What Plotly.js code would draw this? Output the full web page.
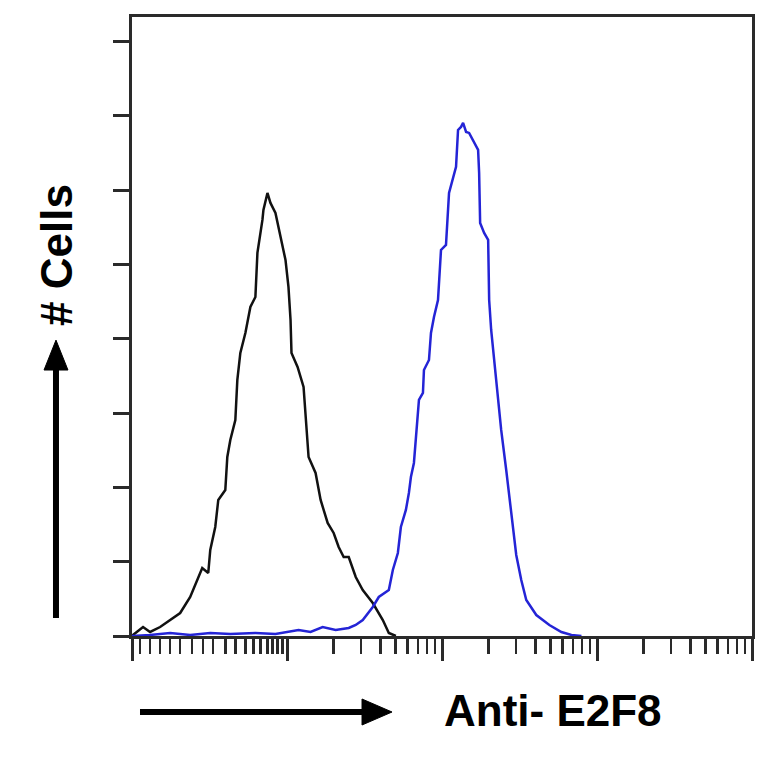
<!DOCTYPE html>
<html>
<head>
<meta charset="utf-8">
<script src="https://cdn.plot.ly/plotly-3.0.1.min.js"></script>
<style>
html,body{margin:0;padding:0;background:#fff;}
#chart{width:764px;height:764px;}
</style>
</head>
<body>
<div id="chart"></div>
<script>
// Control (isotype) histogram - fluorescence intensity (log) and cell counts
var controlIntensity = [1.0, 1.015, 1.178, 1.308, 1.518, 1.762, 2.045, 2.374, 2.634, 2.839, 3.104, 3.198, 3.445, 3.603, 3.999, 4.120, 4.308, 4.642, 4.782, 5.000, 5.388, 5.804, 6.254, 6.444, 6.942, 7.047, 7.478, 7.820, 8.423, 9.077, 9.779, 10.22, 10.54, 10.69, 11.70, 12.79, 13.18, 13.78, 15.29, 16.48, 18.29, 20.00, 21.54, 23.21, 25.01, 27.76, 30.81, 35.76, 41.51, 45.39, 50.39];
var controlCells     = [0, 0.27, 2.42, 1.08, 2.42, 4.31, 6.19, 10.50, 15.07, 18.30, 16.96, 23.15, 29.34, 36.61, 39.30, 48.18, 52.76, 58.14, 68.91, 76.18, 81.56, 88.56, 91.25, 103.10, 111.98, 114.67, 119.25, 116.56, 113.86, 107.40, 101.21, 93.94, 85.06, 76.18, 72.41, 67.03, 58.14, 48.18, 43.88, 36.61, 30.42, 27.73, 23.96, 21.27, 21.27, 15.88, 12.38, 8.88, 4.31, 0.81, 0];

// Anti-E2F8 stained histogram
var e2f8Intensity = [1.0, 1.308, 1.762, 2.374, 3.198, 4.308, 6.254, 8.423, 11.87, 14.19, 16.98, 20.60, 25.01, 27.76, 30.81, 35.76, 39.11, 45.39, 48.18, 51.91, 54.28, 58.48, 61.15, 63.01, 65.89, 69.93, 71.00, 75.34, 76.48, 82.40, 84.89, 88.77, 94.22, 98.52, 106.1, 111.0, 117.8, 123.2, 126.9, 132.7, 136.8, 143.0, 149.6, 158.7, 171.0, 173.6, 176.2, 187.0, 198.5, 201.5, 207.6, 223.6, 240.9, 259.6, 279.6, 301.3, 324.6, 349.7, 405.9, 492.7, 589.2, 683.9, 793.6];
var e2f8Cells     = [0, 0.27, 0.81, 0.27, 0.81, 0.54, 0.81, 0.54, 1.62, 1.08, 2.42, 1.62, 2.15, 2.96, 4.31, 7.81, 10.50, 12.38, 17.77, 22.34, 29.34, 33.92, 38.49, 42.80, 46.57, 58.95, 63.53, 65.41, 71.60, 74.29, 81.56, 85.87, 90.44, 103.90, 105.25, 119.25, 123.55, 126.25, 136.20, 137.01, 138.09, 135.67, 135.40, 133.51, 130.82, 124.63, 111.17, 108.48, 106.60, 90.44, 82.37, 68.91, 55.45, 44.68, 33.92, 21.80, 15.07, 9.69, 5.65, 2.96, 1.08, 0.27, 0];

// Axis ticks
var xMajorTicks = [1, 10, 100, 1000, 10000];
var xMinorTicks = [1.13, 1.31, 1.52, 1.76, 2.04, 2.44, 2.88, 3.34, 4, 4.64, 5.39, 6.07, 6.74, 7.48, 8.06, 8.68, 9.35,
                   20, 30, 40, 50, 60, 70, 80, 90,
                   200, 300, 400, 500, 600, 700, 800, 900,
                   2000, 3000, 4000, 5000, 6000, 7000, 8000, 9000];
var yTicks = [0, 20, 40, 60, 80, 100, 120, 140, 160];

var xLabel = "Anti- E2F8";
var yLabel = "# Cells";

var traces = [
  {x: controlIntensity, y: controlCells, type: 'scatter', mode: 'lines',
   line: {color: '#111111', width: 2.5}, name: 'Control', hoverinfo: 'skip'},
  {x: e2f8Intensity, y: e2f8Cells, type: 'scatter', mode: 'lines',
   line: {color: '#2424d6', width: 2.5}, name: 'Anti-E2F8', hoverinfo: 'skip'}
];

var axisColor = '#2a2a2a';
var layout = {
  width: 764, height: 764,
  margin: {l: 132, r: 12, t: 17, b: 128},
  paper_bgcolor: '#ffffff', plot_bgcolor: '#ffffff',
  showlegend: false,
  font: {family: 'Liberation Sans, Arial, sans-serif', color: '#000'},
  xaxis: {
    type: 'log', range: [0, 4], showgrid: false, zeroline: false,
    showline: true, linecolor: axisColor, linewidth: 3, mirror: true,
    tickmode: 'array', tickvals: xMajorTicks, showticklabels: false,
    ticks: 'outside', ticklen: 22, tickwidth: 3, tickcolor: axisColor,
    minor: {tickmode: 'array', tickvals: xMinorTicks, ticks: 'outside', ticklen: 15, tickwidth: 2.5, tickcolor: axisColor, showgrid: false}
  },
  yaxis: {
    range: [0, 166.6], showgrid: false, zeroline: false,
    showline: true, linecolor: axisColor, linewidth: 3, mirror: true,
    tickmode: 'array', tickvals: yTicks, showticklabels: false,
    ticks: 'outside', ticklen: 16, tickwidth: 3, tickcolor: axisColor
  },
  shapes: [
    // vertical arrow (# Cells)
    {type: 'line', xref: 'paper', yref: 'paper', x0: -0.1226, x1: -0.1226, y0: 0.029, y1: 0.44,
     line: {color: '#000', width: 6}},
    {type: 'path', xref: 'paper', yref: 'paper',
     path: 'M -0.1226,0.478 L -0.1419,0.4297 L -0.1033,0.4297 Z',
     fillcolor: '#000', line: {color: '#000', width: 1}},
    // horizontal arrow (Anti- E2F8)
    {type: 'line', xref: 'paper', yref: 'paper', x0: 0.0129, x1: 0.38, y0: -0.1228, y1: -0.1228,
     line: {color: '#000', width: 6}},
    {type: 'path', xref: 'paper', yref: 'paper',
     path: 'M 0.4194,-0.1228 L 0.371,-0.1018 L 0.371,-0.1438 Z',
     fillcolor: '#000', line: {color: '#000', width: 1}}
  ],
  annotations: [
    {text: '<b>' + yLabel + '</b>', xref: 'paper', yref: 'paper', x: -0.1226, y: 0.6155,
     xanchor: 'center', yanchor: 'middle', textangle: -90, showarrow: false,
     font: {size: 44, family: 'Liberation Sans, Arial, sans-serif', color: '#000'}},
    {text: '<b>' + xLabel + '</b>', xref: 'paper', yref: 'paper', x: 0.679, y: -0.1196,
     xanchor: 'center', yanchor: 'middle', showarrow: false,
     font: {size: 44, family: 'Liberation Sans, Arial, sans-serif', color: '#000'}}
  ]
};

Plotly.newPlot('chart', traces, layout, {staticPlot: true, displayModeBar: false});
</script>
</body>
</html>
